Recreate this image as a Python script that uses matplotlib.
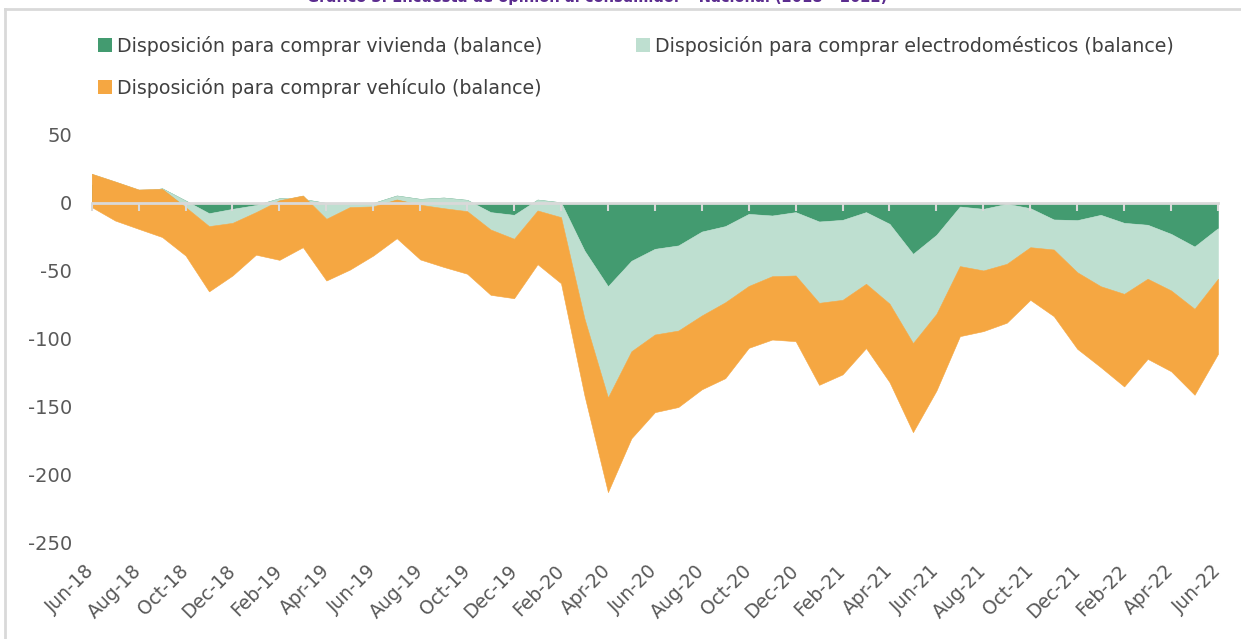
import numpy as np
import matplotlib
matplotlib.use("Agg")
import matplotlib.pyplot as plt
from matplotlib.patches import Patch
from matplotlib.lines import Line2D

plt.rcParams["font.family"] = ["DejaVu Sans"]
plt.rcParams["axes.unicode_minus"] = False

# monthly, Jun-18 .. Jun-22 (balances, stacked as in the original Excel chart)
months = ["Jun-18", "Jul-18", "Aug-18", "Sep-18", "Oct-18", "Nov-18", "Dec-18",
          "Jan-19", "Feb-19", "Mar-19", "Apr-19", "May-19", "Jun-19", "Jul-19",
          "Aug-19", "Sep-19", "Oct-19", "Nov-19", "Dec-19", "Jan-20", "Feb-20",
          "Mar-20", "Apr-20", "May-20", "Jun-20", "Jul-20", "Aug-20", "Sep-20",
          "Oct-20", "Nov-20", "Dec-20", "Jan-21", "Feb-21", "Mar-21", "Apr-21",
          "May-21", "Jun-21", "Jul-21", "Aug-21", "Sep-21", "Oct-21", "Nov-21",
          "Dec-21", "Jan-22", "Feb-22", "Mar-22", "Apr-22", "May-22", "Jun-22"]

vivienda = [14, 12, 8, 10.8, 1.8, -7.5, -4.3, -1.5, 3.5, 3, 0, 0, 0, 5.5,
            3, 4, 2.3, -6.7, -8.7, 2.5, 0.5, -35, -61.2, -42.5, -33.7, -31.2,
            -21, -17, -8, -9.2, -6.7, -13.6, -12.4, -6.7, -15.3, -37.4, -23.4,
            -2.6, -4.3, -0.6, -3.8, -12.1, -12.6, -8.7, -14.6, -16, -22.7, -32,
            -18.5]

electro = [7.5, 3.8, 1.9, -0.4, -4.8, -9.5, -10.3, -5.2, -1.5, 2.5, -11.6, -3,
           -2.5, -2.9, -4.3, -7.8, -8.3, -12.8, -17.6, -8, -10.9, -50, -81.8,
           -66.5, -63, -62.6, -61.7, -56, -53, -44.6, -46.6, -59.8, -58.8,
           -52.7, -58.7, -65.6, -58.1, -43.8, -45.3, -44.1, -28.7, -22.1,
           -38.3, -52.5, -52.2, -39.7, -41.6, -45.8, -37.2]

vehiculo = [-24.5, -28.7, -28.9, -35.4, -35.6, -48, -38.7, -31.3, -43.8, -38,
            -45.4, -46, -36.1, -28.5, -40.2, -43.2, -46, -48, -43.7, -39.5,
            -48.6, -56.5, -69.6, -64, -57.1, -56.2, -54.3, -55.8, -45.5, -46.6,
            -48.3, -60.3, -54.8, -47.3, -57.7, -65.5, -56.4, -51.5, -44.6,
            -43.3, -38.7, -49, -56.3, -59.5, -68.1, -58.9, -59.4, -63.2, -55.2]

labels = ["Disposición para comprar vivienda (balance)",
          "Disposición para comprar electrodomésticos (balance)",
          "Disposición para comprar vehículo (balance)"]
colors = ["#439B70", "#BEDFD0", "#F5A742"]

x = np.arange(len(months))
c1 = np.array(vivienda)
c2 = c1 + np.array(electro)
c3 = c2 + np.array(vehiculo)

fig = plt.figure(figsize=(12.41, 6.39), dpi=100)
ax = fig.add_axes([91.7 / 1241, 1 - 543 / 639, (1218 - 91.7) / 1241, 408 / 639])

ax.fill_between(x, 0, c1, color=colors[0], lw=0.4, zorder=1)
ax.fill_between(x, c1, c2, color=colors[1], lw=0.4, zorder=1.1)
ax.fill_between(x, c2, c3, color=colors[2], lw=0.4, zorder=1.2)

ax.set_xlim(0, len(months) - 1)
ax.set_ylim(-250, 50)

for s in ["top", "right", "left"]:
    ax.spines[s].set_visible(False)
ax.spines["bottom"].set_position(("data", 0))
ax.spines["bottom"].set_color("#d9d9d9")
ax.spines["bottom"].set_linewidth(2)
ax.spines["bottom"].set_zorder(3)

ax.set_xticks(x[::2])
ax.tick_params(axis="x", length=6, width=1.5, color="#d9d9d9", labelbottom=False)
ax.set_yticks(np.arange(-250, 51, 50))
ax.tick_params(axis="y", length=0, pad=14, labelsize=14, labelcolor="#595959")

# month labels sit at the bottom of the plot area
sec = ax.secondary_xaxis(0.0)
sec.set_xticks(x[::2], [months[i] for i in x[::2]])
sec.spines["bottom"].set_visible(False)
sec.tick_params(length=0, pad=18, labelsize=13.5, labelcolor="#595959")
for t in sec.get_xticklabels():
    t.set_rotation(45)
    t.set_ha("right")
    t.set_va("center")
    t.set_rotation_mode("anchor")

handles = [Patch(facecolor=colors[0]), Patch(facecolor=colors[2]),
           Patch(facecolor=colors[1])]
hl = [labels[0], labels[2], labels[1]]
fig.legend(handles, hl, loc="upper left", bbox_to_anchor=(98 / 1241, 1 - 36 / 639),
           ncol=2, frameon=False, fontsize=13.7, labelcolor="#404040",
           handlelength=0.75, handleheight=0.75, handletextpad=0.25,
           labelspacing=1.15, columnspacing=4.9, borderpad=0, borderaxespad=0)

# frame around the chart and the cropped title above it
fig.add_artist(Line2D([5 / 1241, 5 / 1241], [0, 1 - 9 / 639], color="#d9d9d9",
                      lw=2, transform=fig.transFigure))
fig.add_artist(Line2D([5 / 1241, 1], [1 - 9 / 639, 1 - 9 / 639], color="#d9d9d9",
                      lw=2, transform=fig.transFigure))
fig.text(0.481, 1 + 3 / 639, "Gráfico 3. Encuesta de opinión al consumidor – Nacional (2018 – 2022)",
         ha="center", va="center", fontsize=10.5, fontweight="bold", color="#5b2c8f",
         family=["Liberation Sans Narrow", "DejaVu Sans"])

fig.savefig("out.png", dpi=100)
